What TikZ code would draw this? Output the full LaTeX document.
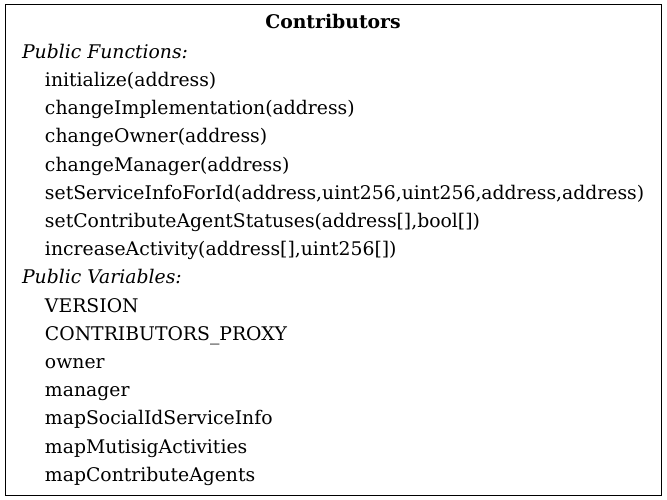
\documentclass[tikz,border=0pt]{standalone}
\usepackage{fontspec}
\setmainfont{DejaVu Serif}
\begin{document}
\begin{tikzpicture}[x=1pt,y=-1pt,
  every node/.style={inner sep=0pt,outer sep=0pt,font=\fontsize{18.8}{22}\selectfont},
  head/.style={anchor=base,font=\fontsize{18.8}{22}\selectfont\bfseries},
  section/.style={anchor=base west,font=\fontsize{18.8}{22}\selectfont\itshape},
  member/.style={anchor=base west}]
  \useasboundingbox (0,0) rectangle (667,500);
  \node[draw,line width=1pt,minimum width=656pt,minimum height=490pt,anchor=north west] (box) at (5,5) {};
  \node[head] (title) at (333,29) {Contributors};
  \node[section] (pf) at (22,58.3) {Public Functions:};
  \foreach \t [count=\i] in {initialize(address),changeImplementation(address),changeOwner(address),changeManager(address),{setServiceInfoForId(address,uint256,uint256,address,address)},{setContributeAgentStatuses(address[],bool[])},{increaseActivity(address[],uint256[])}}
    \node[member] (f\i) at (45,58.3+28.2*\i) {\t};
  \node[section] (pv) at (22,58.3+28.2*8) {Public Variables:};
  \foreach \t [count=\i] in {VERSION,CONTRIBUTORS\_PROXY,owner,manager,mapSocialIdServiceInfo,mapMutisigActivities,mapContributeAgents}
    \node[member] (v\i) at (45,58.3+28.2*8+28.2*\i) {\t};
\end{tikzpicture}
\end{document}
